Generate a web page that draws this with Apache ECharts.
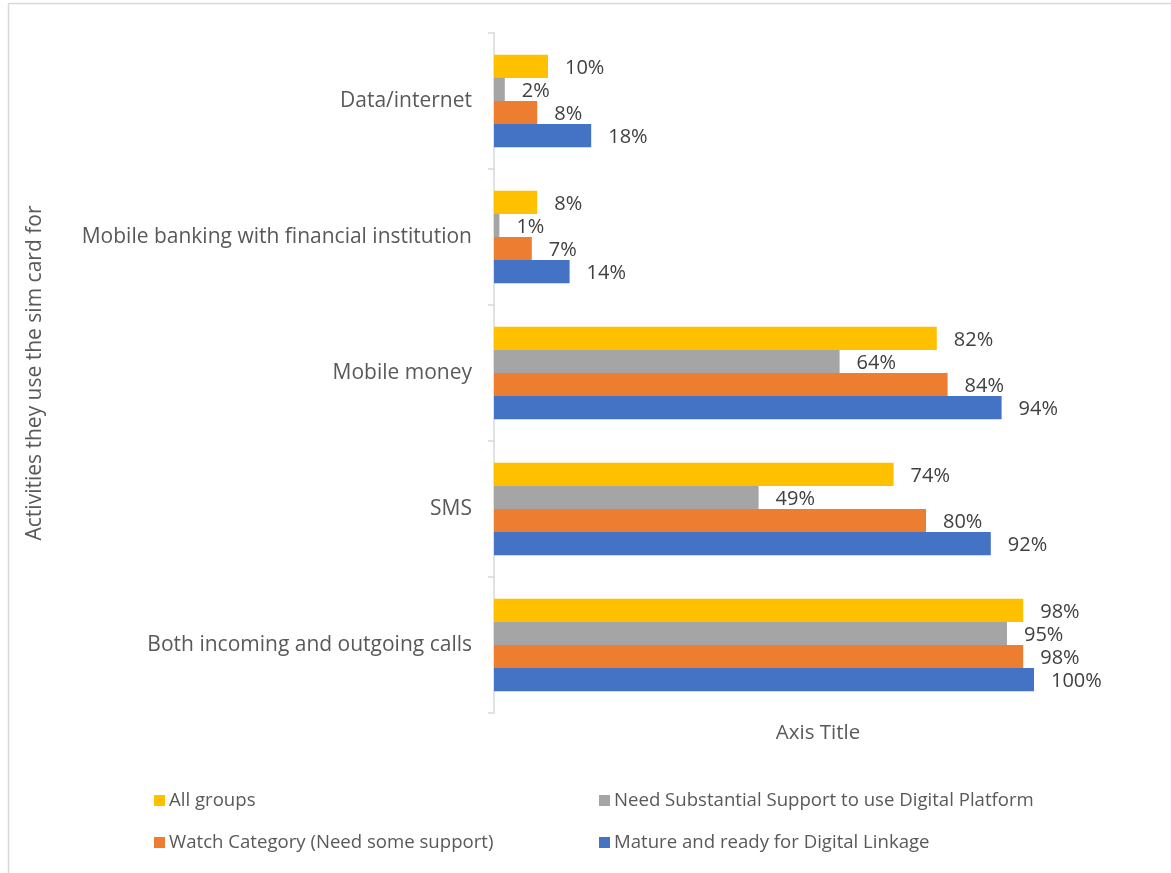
<!DOCTYPE html>
<html>
<head>
<meta charset="utf-8">
<script src="https://cdn.jsdelivr.net/npm/echarts@6/dist/echarts.min.js"></script>
<style>
  html, body { margin: 0; padding: 0; background: #fff; }
  #chart { width: 1171px; height: 873px; }
</style>
</head>
<body>
<div id="chart"></div>
<script>
// Activities (bottom to top on the category axis)
const categories = [
  'Both incoming and outgoing calls',
  'SMS',
  'Mobile money',
  'Mobile banking with financial institution',
  'Data/internet'
];

const seriesNames = [
  'All groups',
  'Need Substantial Support to use Digital Platform',
  'Watch Category (Need some support)',
  'Mature and ready for Digital Linkage'
];

// Shares per activity, same order as categories
const allGroups   = [0.98, 0.74, 0.82, 0.08, 0.10];
const needSupport = [0.95, 0.49, 0.64, 0.01, 0.02];
const watchCat    = [0.98, 0.80, 0.84, 0.07, 0.08];
const mature      = [1.00, 0.92, 0.94, 0.14, 0.18];

const colors = {
  'All groups': '#FFC000',
  'Need Substantial Support to use Digital Platform': '#A5A5A5',
  'Watch Category (Need some support)': '#ED7D31',
  'Mature and ready for Digital Linkage': '#4472C4'
};

const FONT = '"Open Sans", Lato, sans-serif';

function barSeries(name, values) {
  return {
    name: name,
    type: 'bar',
    data: values,
    barGap: '0%',
    barCategoryGap: '32%',
    itemStyle: { color: colors[name] },
    label: {
      show: true,
      position: 'right',
      distance: 17,
      offset: [0, 2],
      color: '#404040',
      fontFamily: FONT,
      fontSize: 20,
      formatter: p => Math.round(p.value * 100) + '%'
    }
  };
}

const legendText = { color: '#595959', fontSize: 18.6, fontFamily: FONT, padding: [0, 0, 0, -1] };

const chart = echarts.init(document.getElementById('chart'), null, { renderer: 'canvas' });
chart.setOption({
  animation: false,
  textStyle: { fontFamily: FONT },
  graphic: [
    { type: 'line', shape: { x1: 8.5, y1: 3.5, x2: 1171, y2: 3.5 }, style: { stroke: '#d9d9d9', lineWidth: 1.5 } },
    { type: 'line', shape: { x1: 8.5, y1: 3.5, x2: 8.5, y2: 873 }, style: { stroke: '#d9d9d9', lineWidth: 1.5 } }
  ],
  grid: { left: 494, right: 29, top: 33, bottom: 160 },
  xAxis: {
    type: 'value',
    min: 0,
    max: 1.2,
    axisLine: { show: false },
    axisTick: { show: false },
    axisLabel: { show: false },
    splitLine: { show: false },
    name: 'Axis Title',
    nameLocation: 'middle',
    nameGap: 10,
    nameTextStyle: { color: '#595959', fontSize: 20.5, fontFamily: FONT }
  },
  yAxis: {
    type: 'category',
    data: categories,
    axisLine: { show: true, lineStyle: { color: '#d9d9d9', width: 1.5 } },
    axisTick: { show: true, length: 6, lineStyle: { color: '#d9d9d9', width: 1.5 } },
    axisLabel: { color: '#595959', fontSize: 21, fontFamily: FONT, margin: 22 },
    name: 'Activities they use the sim card for',
    nameLocation: 'middle',
    nameGap: 448,
    nameRotate: 90,
    nameTextStyle: { color: '#595959', fontSize: 21, fontFamily: FONT }
  },
  legend: [
    {
      data: [seriesNames[0], seriesNames[2]],
      orient: 'vertical',
      left: 149,
      top: 786,
      itemWidth: 11,
      itemHeight: 11,
      itemGap: 23,
      icon: 'rect',
      textStyle: legendText
    },
    {
      data: [seriesNames[1], seriesNames[3]],
      orient: 'vertical',
      left: 594,
      top: 786,
      itemWidth: 11,
      itemHeight: 11,
      itemGap: 23,
      icon: 'rect',
      textStyle: legendText
    }
  ],
  series: [
    barSeries(seriesNames[0], allGroups),
    barSeries(seriesNames[1], needSupport),
    barSeries(seriesNames[2], watchCat),
    barSeries(seriesNames[3], mature)
  ]
});
</script>
</body>
</html>
